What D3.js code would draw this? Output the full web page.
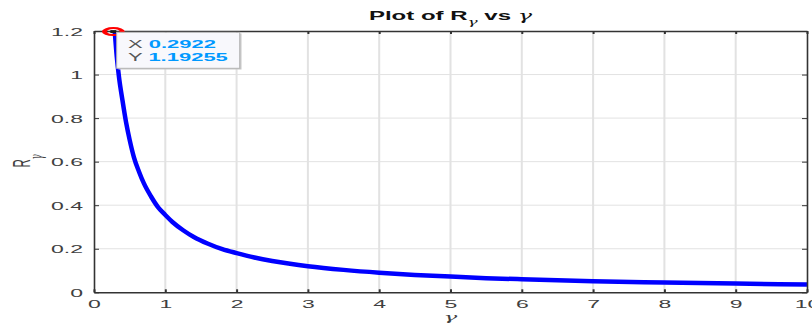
<!DOCTYPE html>
<html>
<head>
<meta charset="utf-8">
<script src="https://cdn.jsdelivr.net/npm/d3@7"></script>
<style>
  html, body { margin: 0; padding: 0; background: #ffffff; }
  svg { display: block; }
  text { font-family: "Liberation Sans", Arial, Helvetica, sans-serif; }
  .greek { font-family: "DejaVu Serif", serif; font-style: italic; font-weight: normal; }
</style>
</head>
<body>
<svg id="chart" width="812" height="324"></svg>
<script>
// R_gamma sampled over gamma
const gammaValues = [0.2922, 0.32, 0.35, 0.40, 0.45, 0.50, 0.56, 0.63, 0.70, 0.80, 0.90,
  1.00, 1.10, 1.25, 1.40, 1.60, 1.80, 2.00, 2.25, 2.50, 2.75, 3.00, 3.50, 4.00,
  4.50, 5.00, 5.50, 6.00, 7.00, 8.00, 9.00, 10.0];
const rValues = [1.19255, 1.08, 0.99, 0.88, 0.78, 0.70, 0.62, 0.555, 0.50, 0.44, 0.39,
  0.355, 0.323, 0.285, 0.254, 0.223, 0.198, 0.180, 0.160, 0.144, 0.131, 0.120, 0.103, 0.090,
  0.080, 0.072, 0.065, 0.060, 0.051, 0.045, 0.040, 0.036];

const xTicks = [0, 1, 2, 3, 4, 5, 6, 7, 8, 9, 10];
const yTicks = [0, 0.2, 0.4, 0.6, 0.8, 1.0, 1.2];
const yTickLabels = ["0", "0.2", "0.4", "0.6", "0.8", "1", "1.2"];

// data cursor readout
const tipGamma = 0.2922;
const tipR = 1.19255;

const svg = d3.select("#chart");
const SX = 2; // horizontal stretch applied to every text label
const tickColor = "#404040";

const x = d3.scaleLinear().domain([0, 10]).range([94, 807]);
const y = d3.scaleLinear().domain([0, 1.2]).range([292.3, 31]);

// grid
const grid = svg.append("g");
grid.selectAll("line.gx").data(xTicks.slice(1, -1)).join("line")
  .attr("x1", d => x(d)).attr("x2", d => x(d))
  .attr("y1", y(0)).attr("y2", y(1.2))
  .attr("stroke", "#e2e2e2").attr("stroke-width", 2);
grid.selectAll("line.gy").data(yTicks.slice(1, -1)).join("line")
  .attr("x1", x(0)).attr("x2", x(10))
  .attr("y1", d => y(d)).attr("y2", d => y(d))
  .attr("stroke", "#e2e2e2").attr("stroke-width", 1);

// curve
const pts = gammaValues.map((g, i) => [g, rValues[i]]);
svg.append("path")
  .datum(pts)
  .attr("fill", "none")
  .attr("stroke", "#0000ff")
  .attr("stroke-width", 4.5)
  .attr("stroke-linejoin", "round")
  .attr("d", d3.line().x(d => x(d[0])).y(d => y(d[1])).curve(d3.curveMonotoneX));

// axes
function styleAxis(g) {
  g.select(".domain").attr("stroke", "#333333").attr("stroke-width", 1.6);
  g.selectAll(".tick line").attr("stroke", "#333333");
}

const axisBottomG = svg.append("g").attr("transform", `translate(0,${y(0)})`)
  .call(d3.axisBottom(x).tickValues(xTicks).tickSize(-3).tickSizeOuter(0).tickFormat(d3.format("d")));
styleAxis(axisBottomG);
axisBottomG.selectAll(".tick line").attr("stroke-width", 2);
axisBottomG.selectAll(".tick text")
  .attr("y", 16).attr("dy", 0)
  .attr("transform", `scale(${SX},1)`)
  .attr("font-size", 11.5).attr("fill", tickColor);

const axisTopG = svg.append("g").attr("transform", `translate(0,${y(1.2)})`)
  .call(d3.axisTop(x).tickValues(xTicks).tickSize(-3).tickSizeOuter(0).tickFormat(""));
styleAxis(axisTopG);
axisTopG.selectAll(".tick line").attr("stroke-width", 2);

const axisLeftG = svg.append("g").attr("transform", `translate(${x(0)},0)`)
  .call(d3.axisLeft(y).tickValues(yTicks).tickSize(-5).tickSizeOuter(0)
    .tickFormat((d, i) => yTickLabels[i]));
styleAxis(axisLeftG);
axisLeftG.selectAll(".tick text")
  .attr("x", -5.5).attr("dy", "0.36em")
  .attr("transform", `scale(${SX},1)`)
  .attr("font-size", 11.5).attr("fill", tickColor);

const axisRightG = svg.append("g").attr("transform", `translate(${x(10)},0)`)
  .call(d3.axisRight(y).tickValues(yTicks).tickSize(-5).tickSizeOuter(0).tickFormat(""));
styleAxis(axisRightG);

// title
const title = svg.append("text")
  .attr("transform", `translate(${(x(0) + x(10)) / 2},20) scale(${SX},1)`)
  .attr("text-anchor", "middle")
  .attr("font-size", 12).attr("font-weight", "bold").attr("fill", "#111111");
title.append("tspan").text("Plot of R");
title.append("tspan").attr("class", "greek").attr("font-size", 8.5).attr("dy", 5).text("γ");
title.append("tspan").attr("dy", -5).text(" vs ");
title.append("tspan").attr("class", "greek").text("γ");

// axis labels
svg.append("text")
  .attr("class", "greek")
  .attr("transform", `translate(${(x(0) + x(10)) / 2},320.5) scale(${SX},1)`)
  .attr("text-anchor", "middle")
  .attr("font-size", 11.5).attr("fill", "#404040")
  .text("γ");

const ylab = svg.append("text")
  .attr("transform", `translate(30,167.5) scale(${SX},1) rotate(-90)`)
  .attr("text-anchor", "start")
  .attr("font-size", 11.5).attr("fill", "#404040");
ylab.append("tspan").text("R");
ylab.append("tspan").attr("class", "greek").attr("font-size", 8).attr("dy", 6).text("γ");

// data cursor marker
const mx = x(tipGamma), my = y(tipR);
svg.append("circle")
  .attr("transform", `translate(${mx - 1.5},${my - 1}) scale(2.55,1)`)
  .attr("r", 3.5)
  .attr("fill", "none").attr("stroke", "#ff0000").attr("stroke-width", 2);
svg.append("rect")
  .attr("x", mx - 4.5).attr("y", my - 2.5).attr("width", 6).attr("height", 3)
  .attr("fill", "#1a1a1a");

// data cursor readout box
const tip = svg.append("g");
tip.append("rect")
  .attr("x", 118.5).attr("y", 33.5).attr("width", 123).attr("height", 36)
  .attr("fill", "#c8c8c8");
tip.append("rect")
  .attr("x", 116.7).attr("y", 32.3).attr("width", 123).attr("height", 36)
  .attr("fill", "#f8f8fc").attr("stroke", "#b4b4b4").attr("stroke-width", 1);

const rows = [["X", d3.format(".4f")(tipGamma)], ["Y", String(tipR)]];
rows.forEach((r, i) => {
  const t = tip.append("text")
    .attr("transform", `translate(128,${48.3 + i * 12.7}) scale(${SX},1)`)
    .attr("font-size", 11);
  t.append("tspan").attr("fill", "#555555").text(r[0] + " ");
  t.append("tspan").attr("fill", "#0099ff").attr("font-weight", "bold").text(r[1]);
});
</script>
</body>
</html>
